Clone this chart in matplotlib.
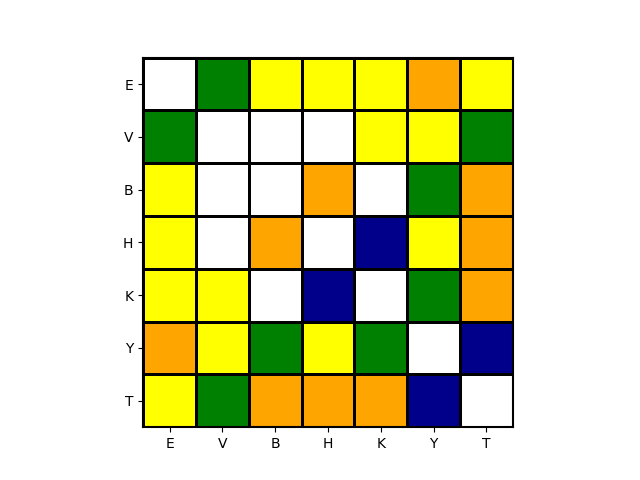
import matplotlib
matplotlib.use("Agg")
import matplotlib.pyplot as plt
import numpy as np
from matplotlib.colors import ListedColormap, BoundaryNorm

labels = ["E", "V", "B", "H", "K", "Y", "T"]
palette = ["white", "yellow", "orange", "green", "darkblue"]

# 0 = white, 1 = yellow, 2 = orange, 3 = green, 4 = dark blue
grid = [
    [0, 3, 1, 1, 1, 2, 1],
    [3, 0, 0, 0, 1, 1, 3],
    [1, 0, 0, 2, 0, 3, 2],
    [1, 0, 2, 0, 4, 1, 2],
    [1, 1, 0, 4, 0, 3, 2],
    [2, 1, 3, 1, 3, 0, 4],
    [1, 3, 2, 2, 2, 4, 0],
]

data = np.array(grid)
cmap = ListedColormap(palette)
norm = BoundaryNorm(np.arange(-0.5, len(palette) + 0.5, 1), cmap.N)

fig, ax = plt.subplots(figsize=(6.4, 4.8), dpi=100)
ax.pcolormesh(data, cmap=cmap, norm=norm, edgecolors="black", linewidth=2)
ax.set_aspect("equal")
ax.set_xlim(0, len(labels))
ax.set_ylim(len(labels), 0)
ax.set_xticks(np.arange(len(labels)) + 0.5)
ax.set_xticklabels(labels)
ax.set_yticks(np.arange(len(labels)) + 0.5)
ax.set_yticklabels(labels)
for s in ax.spines.values():
    s.set_linewidth(1.5)

fig.savefig("out.png", dpi=100)
